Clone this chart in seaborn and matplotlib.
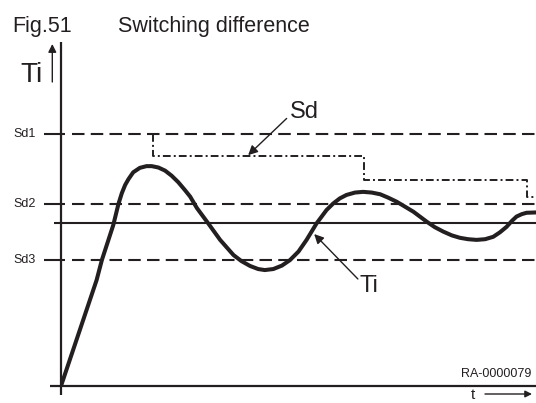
import matplotlib
matplotlib.use("Agg")
import matplotlib.pyplot as plt
import seaborn as sns
import pandas as pd

# Room temperature Ti over time (arbitrary units, 0-100 on both axes)
time_pts = [0.0, 7.5, 8.6, 11.0, 12.1, 12.8, 13.5, 14.2, 15.2, 16.6, 18.0, 19.1,
            20.5, 21.9, 23.3, 24.7, 26.1, 27.2, 28.6, 31.0, 33.5, 36.3, 38.0,
            39.8, 41.5, 42.9, 44.7, 46.5, 48.2, 50.0, 51.7, 53.8, 55.9, 57.3,
            58.7, 60.1, 61.9, 63.6, 65.4, 67.2, 68.9, 70.7, 72.4, 74.2, 77.0,
            78.7, 80.5, 82.3, 84.0, 85.7, 87.5, 89.3, 91.0, 92.4, 93.8, 94.9,
            95.9, 97.0, 98.0, 100.0]
ti_pts = [0.0, 30.9, 36.7, 46.9, 53.1, 56.2, 58.6, 60.3, 62.3, 63.6, 64.1, 64.1,
          63.7, 62.8, 61.3, 59.4, 57.1, 55.2, 51.9, 47.4, 42.6, 38.2, 36.4,
          35.0, 34.1, 33.8, 34.1, 35.1, 36.7, 39.2, 42.6, 47.4, 51.3, 53.2,
          54.7, 55.7, 56.4, 56.6, 56.4, 55.9, 54.9, 53.7, 52.3, 50.8, 47.9,
          46.3, 45.0, 43.9, 43.2, 42.8, 42.6, 42.8, 43.5, 44.8, 46.4, 48.1,
          49.4, 50.1, 50.5, 50.6]

# Switching thresholds and set point
sd_names = ["Sd1", "Sd2", "Sd3"]
sd_values = [73.5, 53.1, 36.7]
setpoint = 47.5

# Switching difference Sd, stepping down over time
sd_step_t = [19.4, 19.4, 63.8, 98.0, 100.0]
sd_step_v = [73.5, 67.1, 60.1, 55.2, 55.2]

W, H = 536, 403
INK = "#231f20"

sns.set_style("white")
plt.rcParams["font.family"] = ["Liberation Sans", "DejaVu Sans"]

fig = plt.figure(figsize=(W / 100, H / 100), dpi=100)
ax = fig.add_axes([61 / W, (H - 386) / H, 475 / W, 343 / H])
ax.set_xlim(0, 100)
ax.set_ylim(0, 100)
ax.axis("off")


def fpx(x, y):
    return (x / W, 1 - y / H)


# axes lines
ax.plot([0, 0], [-2.6, 100.3], color=INK, lw=1.6, clip_on=False, solid_capstyle="butt")
ax.plot([-2.3, 100], [0, 0], color=INK, lw=1.6, clip_on=False, solid_capstyle="butt")

# threshold lines with tick stubs and labels
for name, v in zip(sd_names, sd_values):
    ax.hlines(v, 2.3, 100, colors=INK, lw=1.5, linestyles=[(0, (6, 3))], clip_on=False)
    ax.plot([-3.6, 0.8], [v, v], color=INK, lw=1.5, clip_on=False, solid_capstyle="butt")
    ax.text(-5.3, v, name, ha="right", va="center", fontsize=9, color=INK, clip_on=False)

# set point
ax.plot([-1.5, 100], [setpoint, setpoint], color=INK, lw=1.5, clip_on=False,
        solid_capstyle="butt")

# switching difference step line
ax.plot(sd_step_t, sd_step_v, color=INK, lw=1.4, drawstyle="steps-post",
        linestyle=(0, (4, 1.6, 1, 1.6)), clip_on=False)

# temperature curve
df = pd.DataFrame({"t": time_pts, "Ti": ti_pts})
sns.lineplot(data=df, x="t", y="Ti", sort=False, color=INK, lw=2.9, ax=ax,
             solid_joinstyle="round", solid_capstyle="round")

# annotation arrows
arrow = dict(arrowstyle="-|>", lw=1.0, color=INK, mutation_scale=14, shrinkA=0, shrinkB=0)
ax.annotate("", xy=(39.4, 67.3), xytext=(47.5, 78.0), arrowprops=arrow)
fig.text(*fpx(290, 118), "Sd", ha="left", va="baseline", fontsize=17, color=INK)
ax.annotate("", xy=(53.3, 44.3), xytext=(62.5, 31.2), arrowprops=arrow)
fig.text(*fpx(360, 292), "Ti", ha="left", va="baseline", fontsize=17, color=INK)

# axis captions
fig.text(*fpx(20.7, 81.7), "Ti", ha="left", va="baseline", fontsize=20, color=INK)
fig.add_artist(matplotlib.patches.FancyArrowPatch(
    fpx(52.3, 82), fpx(52.3, 44), transform=fig.transFigure,
    arrowstyle="-|>", lw=1.0, color=INK, mutation_scale=12, shrinkA=0, shrinkB=0))
fig.text(*fpx(473, 399), "t", ha="center", va="baseline", fontsize=11, color=INK)
fig.add_artist(matplotlib.patches.FancyArrowPatch(
    fpx(485, 394), fpx(532, 394), transform=fig.transFigure,
    arrowstyle="-|>", lw=1.0, color=INK, mutation_scale=10, shrinkA=0, shrinkB=0))

fig.text(*fpx(531.7, 377), "RA-0000079", ha="right", va="baseline", fontsize=9, color=INK)

# title
fig.text(*fpx(12.7, 31.7), "Fig.51", ha="left", va="baseline", fontsize=15.5, color=INK)
fig.text(*fpx(118, 31.7), "Switching difference", ha="left", va="baseline",
         fontsize=15.5, color=INK)

fig.savefig("out.png", dpi=100)
